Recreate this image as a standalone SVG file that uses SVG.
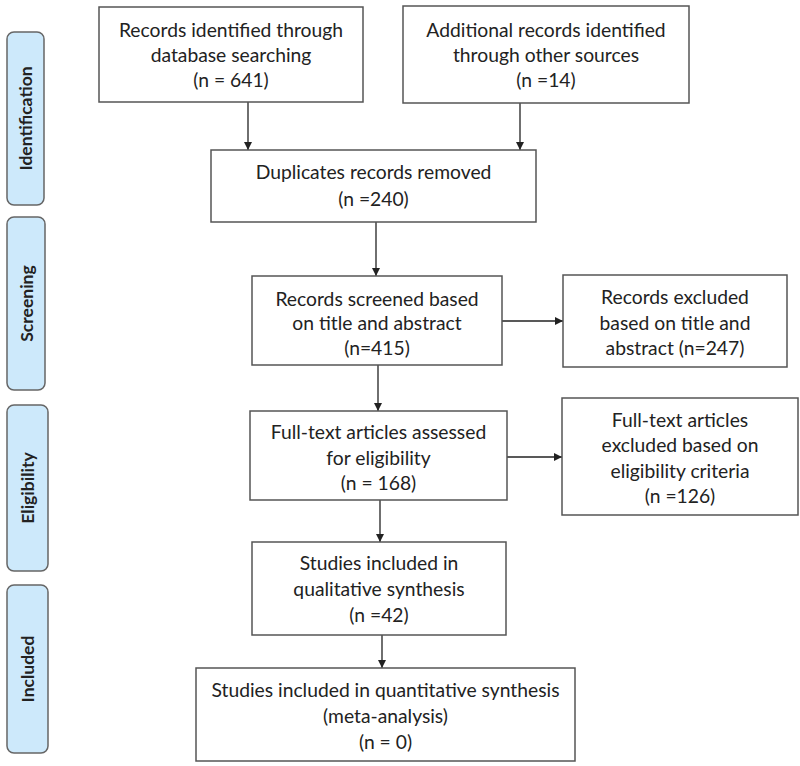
<svg xmlns="http://www.w3.org/2000/svg" width="800" height="766" viewBox="0 0 800 766">
<defs>
<style>
.box{fill:#fff;stroke:#555;stroke-width:1.5}
.side{fill:#cde9fb;stroke:#666;stroke-width:1.5}
.t{font-family:Lato,"Open Sans","Liberation Sans",sans-serif;font-size:19.3px;fill:#222;text-anchor:middle}
.s{font-family:Lato,"Open Sans","Liberation Sans",sans-serif;font-size:17.5px;font-weight:bold;fill:#222;text-anchor:middle}
.c{stroke:#222;stroke-width:1.3;fill:none;marker-end:url(#ah)}
</style>
<marker id="ah" viewBox="0 0 10 10" refX="10" refY="5" markerWidth="8" markerHeight="8" markerUnits="userSpaceOnUse" orient="auto">
<path d="M0,0 L10,5 L0,10 z" fill="#222"/>
</marker>
</defs>
<rect width="800" height="766" fill="#fff"/>
<g id="side-identification">
<rect class="side" x="7" y="32" width="37" height="173" rx="7"/>
<text class="s" transform="translate(32,118.5) rotate(-90)">Identification</text>
</g>
<g id="side-screening">
<rect class="side" x="7" y="217" width="38" height="173" rx="7"/>
<text class="s" transform="translate(32.5,303.5) rotate(-90)">Screening</text>
</g>
<g id="side-eligibility">
<rect class="side" x="7" y="405" width="41" height="166" rx="7"/>
<text class="s" transform="translate(34,488) rotate(-90)">Eligibility</text>
</g>
<g id="side-included">
<rect class="side" x="7" y="585" width="41" height="168" rx="7"/>
<text class="s" transform="translate(34,669) rotate(-90)">Included</text>
</g>
<g id="connectors">
<line class="c" x1="248" y1="102" x2="248" y2="150"/>
<line class="c" x1="520" y1="103" x2="520" y2="150"/>
<line class="c" x1="376" y1="222" x2="376" y2="276"/>
<line class="c" x1="502" y1="321" x2="563" y2="321"/>
<line class="c" x1="378" y1="365" x2="378" y2="411"/>
<line class="c" x1="507" y1="457" x2="562" y2="457"/>
<line class="c" x1="380" y1="500" x2="380" y2="542"/>
<line class="c" x1="382" y1="635" x2="382" y2="668"/>
</g>
<g id="n1">
<rect class="box" x="99" y="7" width="264" height="95"/>
<text class="t" x="231" y="37">Records identified through</text>
<text class="t" x="231" y="62">database searching</text>
<text class="t" x="231" y="87">(n = 641)</text>
</g>
<g id="n2">
<rect class="box" x="403" y="6" width="286" height="97"/>
<text class="t" x="546" y="37">Additional records identified</text>
<text class="t" x="546" y="62">through other sources</text>
<text class="t" x="546" y="87">(n =14)</text>
</g>
<g id="n3">
<rect class="box" x="211" y="150" width="325" height="72"/>
<text class="t" x="373.5" y="179">Duplicates records removed</text>
<text class="t" x="373.5" y="206">(n =240)</text>
</g>
<g id="n4">
<rect class="box" x="252" y="276" width="250" height="89"/>
<text class="t" x="377" y="306">Records screened based</text>
<text class="t" x="377" y="330">on title and abstract</text>
<text class="t" x="377" y="355">(n=415)</text>
</g>
<g id="n5">
<rect class="box" x="563" y="275" width="224" height="92"/>
<text class="t" x="675" y="304">Records excluded</text>
<text class="t" x="675" y="330">based on title and</text>
<text class="t" x="675" y="355">abstract (n=247)</text>
</g>
<g id="n6">
<rect class="box" x="250" y="411" width="257" height="89"/>
<text class="t" x="378.5" y="439">Full-text articles assessed</text>
<text class="t" x="378.5" y="465">for eligibility</text>
<text class="t" x="378.5" y="490">(n = 168)</text>
</g>
<g id="n7">
<rect class="box" x="562" y="398" width="236" height="117"/>
<text class="t" x="680" y="427">Full-text articles</text>
<text class="t" x="680" y="452">excluded based on</text>
<text class="t" x="680" y="478">eligibility criteria</text>
<text class="t" x="680" y="503">(n =126)</text>
</g>
<g id="n8">
<rect class="box" x="252" y="542" width="254" height="93"/>
<text class="t" x="379" y="570">Studies included in</text>
<text class="t" x="379" y="596">qualitative synthesis</text>
<text class="t" x="379" y="622">(n =42)</text>
</g>
<g id="n9">
<rect class="box" x="196" y="668" width="379" height="93"/>
<text class="t" x="385.5" y="697">Studies included in quantitative synthesis</text>
<text class="t" x="385.5" y="723">(meta-analysis)</text>
<text class="t" x="385.5" y="749">(n = 0)</text>
</g>
</svg>
